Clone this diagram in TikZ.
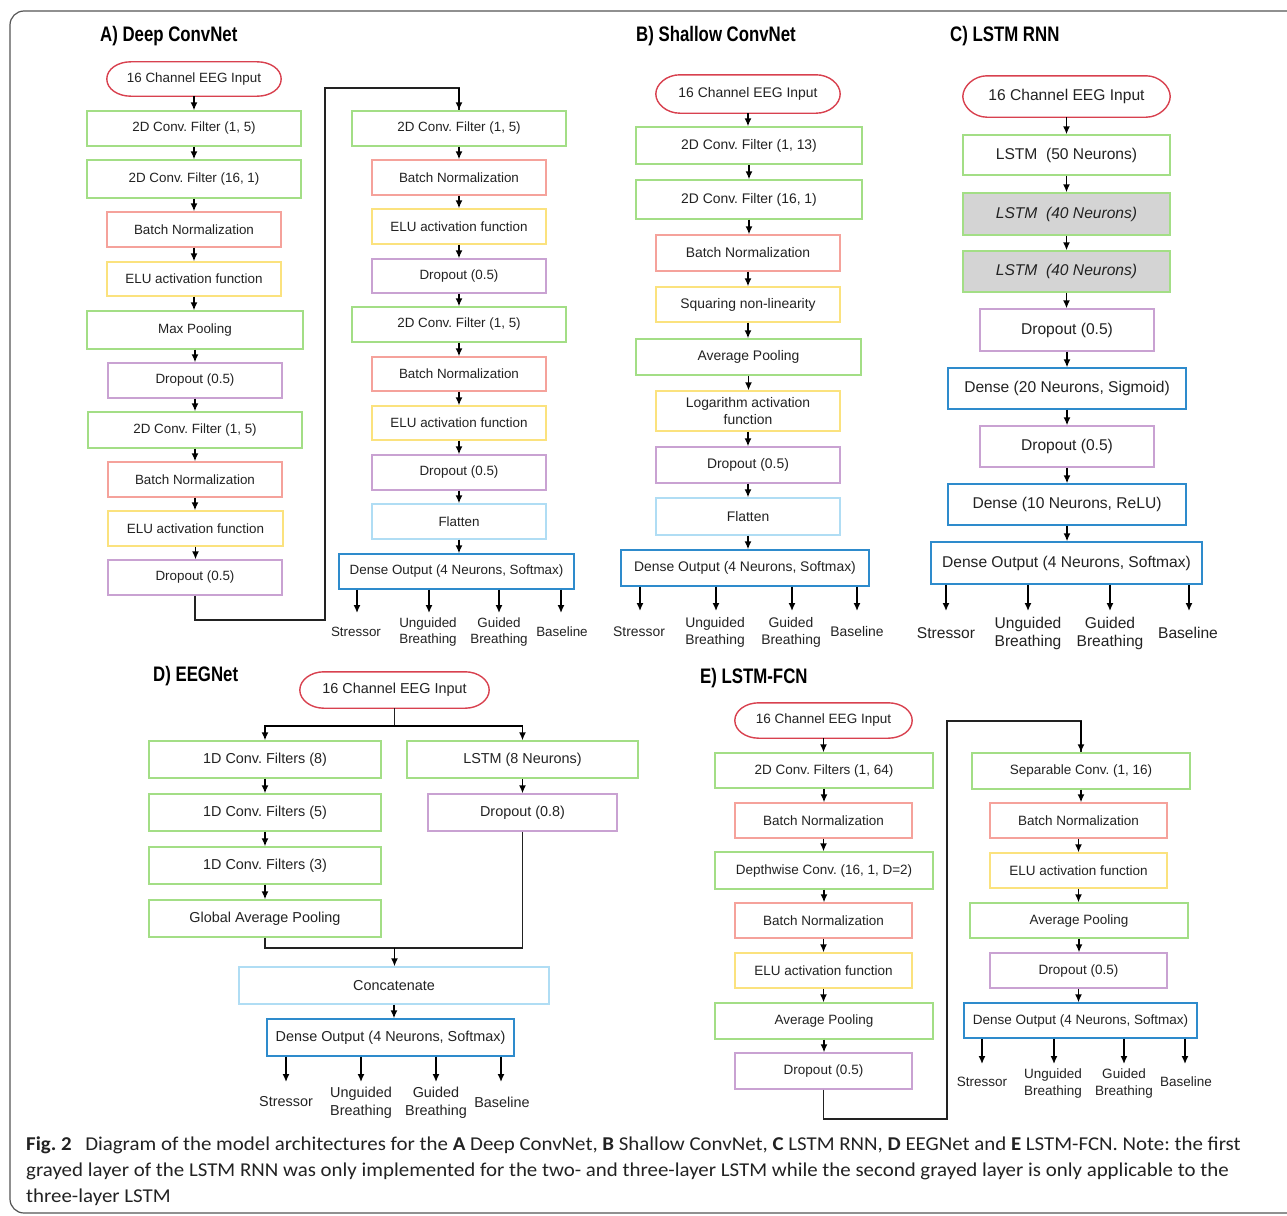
\documentclass[tikz,border=0pt]{standalone}
\usepackage{fontspec}
\setmainfont{Liberation Sans}
\newfontfamily\ttlfont[FakeStretch=0.8]{Liberation Sans}
\newfontfamily\capfont[FakeStretch=1.066]{Carlito}
\usetikzlibrary{arrows.meta}
\definecolor{cgreen}{HTML}{A3DE86}
\definecolor{cred}{HTML}{D8414F}
\definecolor{csalmon}{HTML}{F5A29B}
\definecolor{cyellow}{HTML}{FBE27E}
\definecolor{cpurple}{HTML}{C9A2D2}
\definecolor{clblue}{HTML}{B0DDF4}
\definecolor{cblue}{HTML}{2E8BCC}
\definecolor{cgray}{HTML}{D4D4D4}
\definecolor{ctext}{HTML}{222222}
\definecolor{cframe}{HTML}{555555}
\frenchspacing
\tikzset{
  bx/.style={draw, line width=1.4pt, inner sep=0pt, align=center, text=ctext},
  gbox/.style={bx, draw=cgreen},
  rbox/.style={bx, draw=csalmon},
  ybox/.style={bx, draw=cyellow},
  pbox/.style={bx, draw=cpurple},
  lbbox/.style={bx, draw=clblue},
  bbox/.style={bx, draw=cblue},
  graybox/.style={bx, draw=cgreen, fill=cgray},
  termline/.style={draw=cred, line width=1.4pt},
  arr/.style={-{Latex[length=8pt,width=7pt]}, line width=1.4pt, draw=black},
  conn/.style={line width=1.4pt, draw=ctext},
  outlbl/.style={align=center, text=ctext, inner sep=0pt},
  ttl/.style={anchor=west, inner sep=0pt, font=\ttlfont\bfseries\fontsize{21}{24}\selectfont},
  capline/.style={anchor=base west, inner sep=0pt, text=ctext, font=\capfont\fontsize{19.6}{24}\selectfont},
}
\newcommand\bx[7]{\node[#2, minimum width={(#5)-(#3)}, minimum height={(#6)-(#4)}] (#1) at ({((#3)+(#5))/2},{((#4)+(#6))/2}) {#7};}
\newcommand\term[6]{%
  \node[inner sep=0pt, text=ctext, minimum width={(#4)-(#2)}, minimum height={(#5)-(#3)}] (#1) at ({((#2)+(#4))/2},{((#3)+(#5))/2}) {#6};
  \draw[termline] (#1.west) .. controls +(0,-10) and +(-13,0) .. ([xshift=24pt]#1.north west) -- ([xshift=-24pt]#1.north east) .. controls +(13,0) and +(0,-10) .. (#1.east) .. controls +(0,10) and +(13,0) .. ([xshift=-24pt]#1.south east) -- ([xshift=24pt]#1.south west) .. controls +(-13,0) and +(0,10) .. (#1.west) -- cycle;}
\begin{document}
\begin{tikzpicture}[x=1pt,y=-1pt]
\useasboundingbox (0,0) rectangle (1287,1215);
% frame
\draw[cframe, line width=1.2pt] (1295,11) -- (24,11) arc[start angle=-90, end angle=-180, radius=14] -- (10,1199) arc[start angle=180, end angle=90, radius=14] -- (1295,1213);

% ---------- A ----------
\node[ttl] (tA) at (100,36) {A) Deep ConvNet};
\begin{scope}[font=\fontsize{13.4}{16}\selectfont]
\term{a0}{107}{62}{281}{96}{16 Channel EEG Input}
\bx{a1}{gbox}{87}{111}{301}{146}{2D Conv. Filter (1, 5)}
\bx{a2}{gbox}{87}{160}{301}{198}{2D Conv. Filter (16, 1)}
\bx{a3}{rbox}{107}{212}{281}{247}{Batch Normalization}
\bx{a4}{ybox}{107}{262}{281}{296}{ELU activation function}
\bx{a5}{gbox}{87}{311}{303}{349}{Max Pooling}
\bx{a6}{pbox}{108}{363}{282}{398}{Dropout (0.5)}
\bx{a7}{gbox}{88}{412}{302}{448}{2D Conv. Filter (1, 5)}
\bx{a8}{rbox}{108}{462}{282}{497}{Batch Normalization}
\bx{a9}{ybox}{108}{511}{283}{546}{ELU activation function}
\bx{a10}{pbox}{108}{560}{282}{595}{Dropout (0.5)}
\bx{b1}{gbox}{352}{111}{566}{146}{2D Conv. Filter (1, 5)}
\bx{b2}{rbox}{372}{160}{546}{195}{Batch Normalization}
\bx{b3}{ybox}{372}{209}{546}{244}{ELU activation function}
\bx{b4}{pbox}{372}{259}{546}{293}{Dropout (0.5)}
\bx{b5}{gbox}{352}{307}{566}{342}{2D Conv. Filter (1, 5)}
\bx{b6}{rbox}{372}{357}{546}{391}{Batch Normalization}
\bx{b7}{ybox}{372}{406}{546}{440}{ELU activation function}
\bx{b8}{pbox}{372}{455}{546}{490}{Dropout (0.5)}
\bx{b9}{lbbox}{372}{504}{546}{539}{Flatten}
\bx{b10}{bbox}{339}{554}{574}{589}{Dense Output (4 Neurons, Softmax)}
\node[outlbl] (aoS) at (356,632) {Stressor};
\node[outlbl] (aoU) at (428,632) {Unguided\\Breathing};
\node[outlbl] (aoG) at (499,632) {Guided\\Breathing};
\node[outlbl] (aoB) at (562,632) {Baseline};
\end{scope}
\foreach \u/\v in {a0/a1,a1/a2,a2/a3,a3/a4,a4/a5,a5/a6,a6/a7,a7/a8,a8/a9,a9/a10,b1/b2,b2/b3,b3/b4,b4/b5,b5/b6,b6/b7,b7/b8,b8/b9,b9/b10}
  \draw[arr] (\u.south) -- (\u.south |- \v.north);
\coordinate (ja1) at (325,620);
\coordinate (ja2) at (325,88);
\draw[conn] (a10.south) |- (ja1) -- (ja2) -| (b1.north);
\draw[arr] (b1.north |- ja2) -- (b1.north);
\foreach \n/\x in {S/357,U/429,G/499,B/561}{
  \coordinate (aq\n) at (\x,613);
  \draw[arr] (b10.south -| aq\n) -- (aq\n);}

% ---------- B ----------
\node[ttl] (tB) at (636,36) {B) Shallow ConvNet};
\begin{scope}[font=\fontsize{13.9}{17}\selectfont]
\term{s0}{656}{75}{840}{113}{16 Channel EEG Input}
\bx{s1}{gbox}{636}{127}{862}{164}{2D Conv. Filter (1, 13)}
\bx{s2}{gbox}{636}{180}{862}{219}{2D Conv. Filter (16, 1)}
\bx{s3}{rbox}{656}{235}{840}{271}{Batch Normalization}
\bx{s4}{ybox}{656}{287}{840}{322}{Squaring non-linearity}
\bx{s5}{gbox}{636}{339}{861}{375}{Average Pooling}
\bx{s6}{ybox}{656}{391}{840}{431}{Logarithm activation\\function}
\bx{s7}{pbox}{656}{447}{840}{483}{Dropout (0.5)}
\bx{s8}{lbbox}{656}{498}{840}{535}{Flatten}
\bx{s9}{bbox}{621}{550}{869}{586}{Dense Output (4 Neurons, Softmax)}
\node[outlbl] (boS) at (639,632) {Stressor};
\node[outlbl] (boU) at (715,632) {Unguided\\Breathing};
\node[outlbl] (boG) at (791,632) {Guided\\Breathing};
\node[outlbl] (boB) at (857,632) {Baseline};
\end{scope}
\foreach \u/\v in {s0/s1,s1/s2,s2/s3,s3/s4,s4/s5,s5/s6,s6/s7,s7/s8,s8/s9}
  \draw[arr] (\u.south) -- (\u.south |- \v.north);
\foreach \n/\x in {S/640,U/716,G/792,B/857}{
  \coordinate (bq\n) at (\x,611);
  \draw[arr] (s9.south -| bq\n) -- (bq\n);}

% ---------- C ----------
\node[ttl] (tC) at (950,36) {C) LSTM RNN};
\begin{scope}[font=\fontsize{15.6}{18}\selectfont]
\term{c0}{963}{76}{1170}{117}{16 Channel EEG Input}
\bx{c1}{gbox}{963}{135}{1170}{175}{LSTM\ \ (50 Neurons)}
\bx{c2}{graybox}{963}{193}{1170}{235}{\textit{LSTM\ \ (40 Neurons)}}
\bx{c3}{graybox}{963}{251}{1170}{292}{\textit{LSTM\ \ (40 Neurons)}}
\bx{c4}{pbox}{980}{309}{1154}{351}{Dropout (0.5)}
\bx{c5}{bbox}{948}{368}{1186}{409}{Dense (20 Neurons, Sigmoid)}
\bx{c6}{pbox}{980}{426}{1154}{467}{Dropout (0.5)}
\bx{c7}{bbox}{948}{484}{1186}{525}{Dense (10 Neurons, ReLU)}
\bx{c8}{bbox}{931}{542}{1202}{584}{Dense Output (4 Neurons, Softmax)}
\node[outlbl] (coS) at (946,633) {Stressor};
\node[outlbl] (coU) at (1028,633) {Unguided\\Breathing};
\node[outlbl] (coG) at (1110,633) {Guided\\Breathing};
\node[outlbl] (coB) at (1188,633) {Baseline};
\end{scope}
\foreach \u/\v in {c0/c1,c1/c2,c2/c3,c3/c4,c4/c5,c5/c6,c6/c7,c7/c8}
  \draw[arr] (\u.south) -- (\u.south |- \v.north);
\foreach \n/\x in {S/946,U/1028,G/1110,B/1189}{
  \coordinate (cq\n) at (\x,611);
  \draw[arr] (c8.south -| cq\n) -- (cq\n);}

% ---------- D ----------
\node[ttl] (tD) at (153,676) {D) EEGNet};
\begin{scope}[font=\fontsize{14.4}{18}\selectfont]
\term{d0}{300}{672}{489}{708}{16 Channel EEG Input}
\bx{d1}{gbox}{149}{741}{381}{778}{1D Conv. Filters (8)}
\bx{dl1}{gbox}{407}{741}{638}{778}{LSTM (8 Neurons)}
\bx{d2}{gbox}{149}{794}{381}{831}{1D Conv. Filters (5)}
\bx{dl2}{pbox}{428}{794}{617}{831}{Dropout (0.8)}
\bx{d3}{gbox}{149}{847}{381}{884}{1D Conv. Filters (3)}
\bx{d4}{gbox}{149}{900}{381}{937}{Global Average Pooling}
\bx{dc}{lbbox}{239}{967}{549}{1004}{Concatenate}
\bx{dd}{bbox}{267}{1019}{514}{1056}{Dense Output (4 Neurons, Softmax)}
\node[outlbl] (doS) at (286,1102) {Stressor};
\node[outlbl] (doU) at (361,1103) {Unguided\\Breathing};
\node[outlbl] (doG) at (436,1103) {Guided\\Breathing};
\node[outlbl] (doB) at (502,1102) {Baseline};
\end{scope}
\coordinate (dj) at (394.5,726);
\draw[conn] (d0.south) -- (dj);
\draw[arr] (dj) -| (d1.north);
\draw[arr] (dj) -| (dl1.north);
\foreach \u/\v in {d1/d2,d2/d3,d3/d4,dl1/dl2,dc/dd}
  \draw[arr] (\u.south) -- (\u.south |- \v.north);
\coordinate (dm) at (394.5,948);
\draw[conn] (d4.south) |- (dm);
\draw[conn] (dl2.south) |- (dm);
\draw[arr] (dm) -- (dm |- dc.north);
\foreach \n/\x in {S/286,U/361,G/436,B/501}{
  \coordinate (dq\n) at (\x,1082);
  \draw[arr] (dd.south -| dq\n) -- (dq\n);}

% ---------- E ----------
\node[ttl] (tE) at (700,678) {E) LSTM-FCN};
\begin{scope}[font=\fontsize{13.5}{17}\selectfont]
\term{e0}{735}{703}{912}{738}{16 Channel EEG Input}
\bx{e1}{gbox}{715}{753}{933}{788}{2D Conv. Filters (1, 64)}
\bx{e2}{rbox}{735}{803}{912}{838}{Batch Normalization}
\bx{e3}{gbox}{715}{852}{933}{889}{Depthwise Conv. (16, 1, D=2)}
\bx{e4}{rbox}{735}{903}{912}{938}{Batch Normalization}
\bx{e5}{ybox}{735}{953}{912}{988}{ELU activation function}
\bx{e6}{gbox}{715}{1003}{933}{1039}{Average Pooling}
\bx{e7}{pbox}{735}{1053}{912}{1089}{Dropout (0.5)}
\bx{f1}{gbox}{972}{753}{1190}{789}{Separable Conv. (1, 16)}
\bx{f2}{rbox}{990}{803}{1167}{838}{Batch Normalization}
\bx{f3}{ybox}{990}{853}{1167}{888}{ELU activation function}
\bx{f4}{gbox}{970}{903}{1188}{938}{Average Pooling}
\bx{f5}{pbox}{990}{953}{1167}{988}{Dropout (0.5)}
\bx{f6}{bbox}{964}{1003}{1197}{1038}{Dense Output (4 Neurons, Softmax)}
\node[outlbl] (eoS) at (982,1082) {Stressor};
\node[outlbl] (eoU) at (1053,1083) {Unguided\\Breathing};
\node[outlbl] (eoG) at (1124,1083) {Guided\\Breathing};
\node[outlbl] (eoB) at (1186,1082) {Baseline};
\end{scope}
\foreach \u/\v in {e0/e1,e1/e2,e2/e3,e3/e4,e4/e5,e5/e6,e6/e7,f1/f2,f2/f3,f3/f4,f4/f5,f5/f6}
  \draw[arr] (\u.south) -- (\u.south |- \v.north);
\coordinate (je1) at (947,1119);
\coordinate (je2) at (947,721);
\draw[conn] (e7.south) |- (je1) -- (je2) -| (f1.north);
\draw[arr] (f1.north |- je2) -- (f1.north);
\foreach \n/\x in {S/982,U/1054,G/1124,B/1185}{
  \coordinate (eq\n) at (\x,1064);
  \draw[arr] (f6.south -| eq\n) -- (eq\n);}

% ---------- caption ----------
\node[capline] (cap1) at (26,1150) {\textbf{Fig. 2}\hspace{0.45em} Diagram of the model architectures for the \textbf{A} Deep ConvNet, \textbf{B} Shallow ConvNet, \textbf{C} LSTM RNN, \textbf{D} EEGNet and \textbf{E} LSTM-FCN. Note: the first};
\node[capline] (cap2) at (26,1176) {grayed layer of the LSTM RNN was only implemented for the two- and three-layer LSTM while the second grayed layer is only applicable to the};
\node[capline] (cap3) at (26,1202) {three-layer LSTM};
\end{tikzpicture}
\end{document}
